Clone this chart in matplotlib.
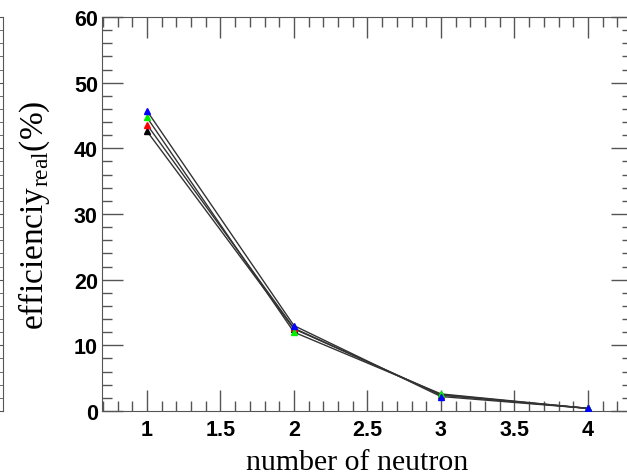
import matplotlib
matplotlib.use("Agg")
import matplotlib.pyplot as plt
from matplotlib.ticker import MultipleLocator

plt.rcParams['mathtext.fontset'] = 'custom'
plt.rcParams['mathtext.rm'] = 'Liberation Serif'

n_neutron = [1, 2, 3, 4]
eff_black = [42.6, 12.5, 2.5, 0.4]
eff_red = [43.6, 12.6, 2.4, 0.4]
eff_green = [44.7, 12.0, 2.6, 0.4]
eff_blue = [45.7, 13.0, 2.2, 0.4]

series = [(eff_black, 'black'), (eff_red, 'red'), (eff_green, '#00ee00'), (eff_blue, 'blue')]

fig = plt.figure(figsize=(6.27, 4.77), dpi=100)

# sliver of the neighbouring pad on the left
ax0 = fig.add_axes([-0.3, 0.1363, 0.3048, 0.826])
ax0.set_xlim(0, 1)
ax0.set_ylim(0, 60)
ax0.yaxis.set_major_locator(MultipleLocator(10))
ax0.yaxis.set_minor_locator(MultipleLocator(2))
ax0.tick_params(axis='y', which='both', left=False, right=True, labelleft=False,
                direction='in', color='#555555')
ax0.tick_params(axis='y', which='major', length=8)
ax0.tick_params(axis='y', which='minor', length=4)
ax0.set_xticks([])
for s in ['left', 'top', 'bottom']:
    ax0.spines[s].set_visible(False)
ax0.spines['right'].set_color('#555555')

ax = fig.add_axes([0.1627, 0.1363, 0.8453, 0.826])
for vals, col in series:
    ax.plot(n_neutron, vals, color='#333333', lw=1.0, zorder=2)
for vals, col in series:
    ax.plot(n_neutron, vals, ls='none', marker='^', ms=5, color=col, zorder=3)

ax.set_xlim(0.694, 4.3)
ax.set_ylim(0, 60)
ax.xaxis.set_major_locator(MultipleLocator(0.5))
ax.xaxis.set_minor_locator(MultipleLocator(0.1))
ax.yaxis.set_major_locator(MultipleLocator(10))
ax.yaxis.set_minor_locator(MultipleLocator(2))
ax.set_xticks([1, 1.5, 2, 2.5, 3, 3.5, 4])
ax.set_xticklabels(['1', '1.5', '2', '2.5', '3', '3.5', '4'])
ax.tick_params(which='both', direction='in', top=True, right=True, color='#555555')
ax.tick_params(which='major', length=15, width=1)
ax.tick_params(which='minor', length=7, width=1)
for lab in ax.get_xticklabels() + ax.get_yticklabels():
    lab.set_fontfamily('Liberation Sans')
    lab.set_fontweight('bold')
    lab.set_fontsize(15.5)
ax.tick_params(axis='x', pad=6)
ax.tick_params(axis='y', pad=3)
for s in ax.spines.values():
    s.set_color('#555555')

fig.text(0.055, 0.549, r'efficienciy$_{\rm real}$(%)', rotation=90, ha='center', va='center',
         fontfamily='Liberation Serif', fontsize=24)
fig.text(0.57, 0.03, 'number of neutron', ha='center', va='center',
         fontfamily='Liberation Serif', fontsize=21.5)

fig.savefig('out.png', dpi=100)
